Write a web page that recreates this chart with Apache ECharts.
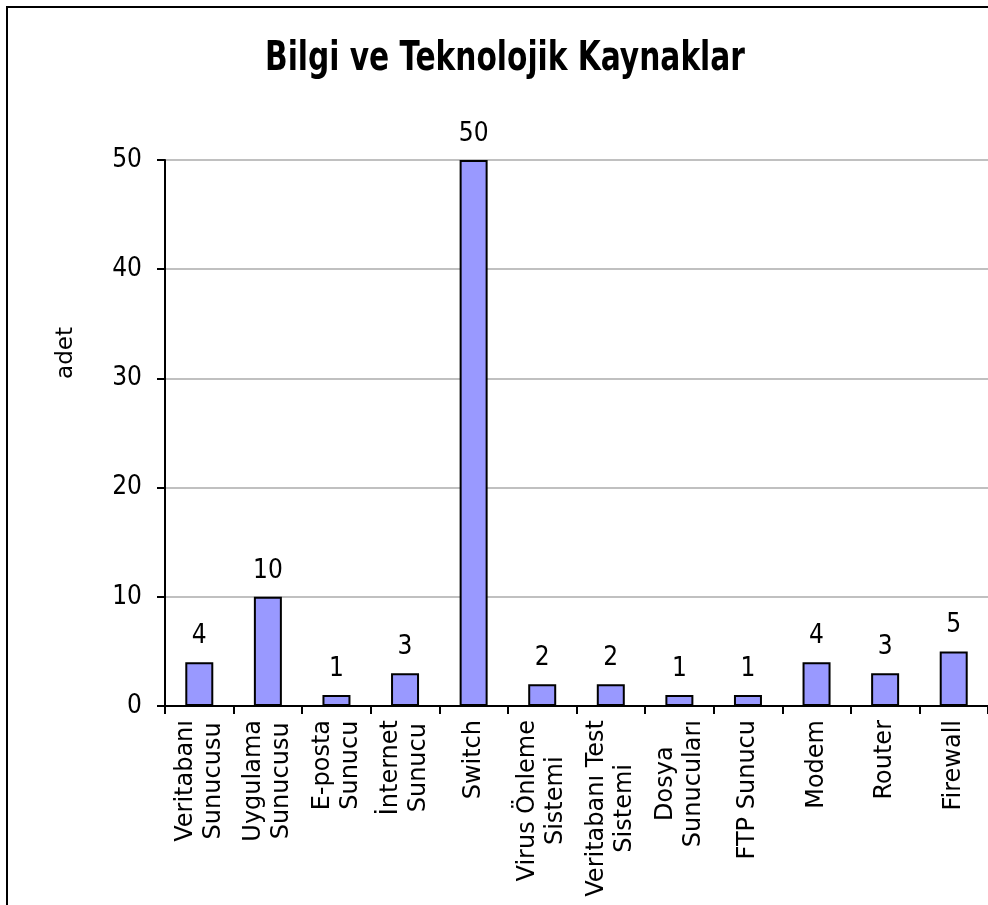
<!DOCTYPE html>
<html lang="tr">
<head>
    <meta charset="UTF-8" />
    <title>Bilgi ve Teknolojik Kaynaklar</title>
    <script src="https://cdn.jsdelivr.net/npm/echarts@6.0.0/dist/echarts.min.js"></script>
    <style>
        html, body {
            margin: 0;
            padding: 0;
            background: #fff;
        }
        #chart {
            width: 988px;
            height: 905px;
        }
    </style>
</head>
<body>
<div id="chart"></div>
<script>
    const categories = [
        'Veritabanı\nSunucusu', 'Uygulama\nSunucusu', 'E-posta\nSunucu', 'İnternet\nSunucu',
        'Switch', 'Virus Önleme\nSistemi', 'Veritabanı Test\nSistemi', 'Dosya\nSunucuları',
        'FTP Sunucu', 'Modem', 'Router', 'Firewall'
    ];
    const counts = [4, 10, 1, 3, 50, 2, 2, 1, 1, 4, 3, 5];
    const yTicks = { min: 0, max: 50, interval: 10 };

    const narrow = '"DejaVu Sans Condensed", sans-serif';
    const sans = '"DejaVu Sans", Verdana, sans-serif';

    const chart = echarts.init(document.getElementById('chart'));

    const option = {
        animation: false,
        graphic: [
            {
                // chart frame (right and bottom edges fall outside the picture)
                type: 'rect',
                shape: { x: 7, y: 7, width: 1200, height: 1200 },
                style: { fill: 'none', stroke: '#000', lineWidth: 2 },
                silent: true
            },
            {
                // title, stretched vertically like the original
                type: 'text',
                x: 505,
                y: 59,
                scaleY: 1.25,
                style: {
                    text: 'Bilgi ve Teknolojik Kaynaklar',
                    fontFamily: narrow,
                    fontWeight: 'bold',
                    fontSize: 33,
                    fill: '#000',
                    align: 'center',
                    verticalAlign: 'middle'
                }
            },
            {
                type: 'text',
                x: 66,
                y: 353,
                rotation: Math.PI / 2,
                style: {
                    text: 'adet',
                    fontFamily: sans,
                    fontSize: 23,
                    fill: '#000',
                    align: 'center',
                    verticalAlign: 'middle'
                }
            }
        ],
        grid: {
            left: 165,
            top: 160,
            width: 834,
            bottom: 199,
            containLabel: false
        },
        xAxis: {
            type: 'category',
            data: categories,
            axisLine: { lineStyle: { color: '#000', width: 2 } },
            axisTick: { show: true, length: 8, lineStyle: { color: '#000', width: 2 } },
            axisLabel: {
                rotate: 90,
                margin: 14,
                interval: 0,
                formatter: v => v.split('\n').map(s => '{c|' + s + '}').join('\n'),
                rich: {
                    c: {
                        align: 'center',
                        fontFamily: sans,
                        fontSize: 24,
                        lineHeight: 28,
                        color: '#000'
                    }
                }
            }
        },
        yAxis: {
            type: 'value',
            min: yTicks.min,
            max: yTicks.max,
            interval: yTicks.interval,
            axisLine: { show: true, lineStyle: { color: '#000', width: 2 } },
            axisTick: { show: true, length: 8, lineStyle: { color: '#000', width: 2 } },
            axisLabel: {
                margin: 23,
                fontFamily: narrow,
                fontSize: 26,
                color: '#000'
            },
            splitLine: { lineStyle: { color: '#c0c0c0', width: 2 } }
        },
        series: [{
            type: 'bar',
            data: counts,
            barWidth: 28,
            itemStyle: {
                color: '#9999ff',
                borderColor: '#000',
                borderWidth: 2
            },
            label: {
                show: true,
                position: 'top',
                distance: 13,
                fontFamily: narrow,
                fontSize: 26,
                color: '#000'
            }
        }]
    };

    chart.setOption(option);
</script>
</body>
</html>
